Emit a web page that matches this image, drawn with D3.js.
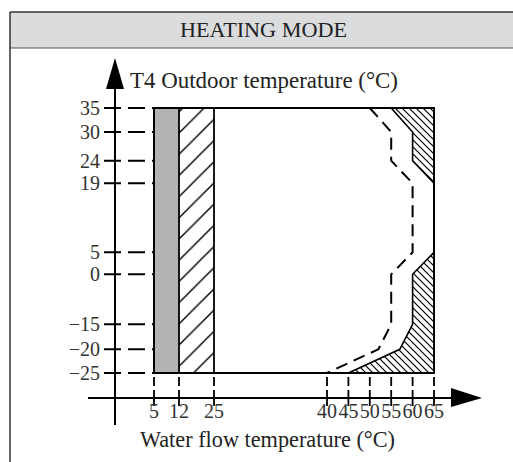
<!DOCTYPE html>
<html><head><meta charset="utf-8">
<script src="https://cdn.jsdelivr.net/npm/d3@7"></script>
<style>html,body{margin:0;padding:0;background:#fff;}svg{display:block;}</style>
</head><body>
<script>
// ---- data ----
const title = "HEATING MODE";
const yAxisTitle = "T4 Outdoor temperature (°C)";
const xAxisTitle = "Water flow temperature (°C)";
const xTickValues = [5, 12, 25, 40, 45, 50, 55, 60, 65];
const yTickValues = [35, 30, 24, 19, 5, 0, -15, -20, -25];
const grayBand = [5, 12];
const hatchBand = [12, 25];
const dashedBoundary = [[50,35],[55,30],[55,24],[60,19],[60,5],[55,0],[55,-15],[52,-20],[40,-25]];
const upperHatch = [[55,35],[65,35],[65,19],[60,24],[60,30]];
const lowerHatch = [[45,-25],[57,-20],[60,-15],[60,0],[65,5],[65,-25]];

// ---- scales (non-uniform, piecewise) ----
const x = d3.scaleLinear().domain([5,12,25,40,65]).range([154,179,214,327,434]);
const y = d3.scaleLinear().domain(yTickValues).range([108,132,160.7,183.3,252.3,274.3,324.3,349.3,373]);

const W = 513, H = 462;
const svg = d3.select("body").append("svg").attr("width", W).attr("height", H);
const font = "'Liberation Serif', 'DejaVu Serif', serif";

const defs = svg.append("defs");
const s1 = 21.2;
defs.append("pattern").attr("id","fwd").attr("patternUnits","userSpaceOnUse")
  .attr("width",s1).attr("height",s1).attr("x",15.3)
  .append("path").attr("d",`M0,${s1} L${s1},0 M-2,2 L2,-2 M${s1-2},${s1+2} L${s1+2},${s1-2}`)
  .attr("stroke","#000").attr("stroke-width",1.4);
const s2 = 7;
defs.append("pattern").attr("id","back").attr("patternUnits","userSpaceOnUse")
  .attr("width",s2).attr("height",s2)
  .append("path").attr("d",`M0,0 L${s2},${s2} M-2,${s2-2} L2,${s2+2} M${s2-2},-2 L${s2+2},2`)
  .attr("stroke","#000").attr("stroke-width",1.2);

// frame + header
svg.append("rect").attr("x",10).attr("y",12).attr("width",W-10).attr("height",36)
  .attr("fill","#dbdcdd");
svg.append("line").attr("x1",10).attr("x2",W).attr("y1",12).attr("y2",12).attr("stroke","#333").attr("stroke-width",1.5);
svg.append("line").attr("x1",10).attr("x2",W).attr("y1",48).attr("y2",48).attr("stroke","#555").attr("stroke-width",1.2);
svg.append("line").attr("x1",10).attr("x2",10).attr("y1",12).attr("y2",H).attr("stroke","#333").attr("stroke-width",1.5);
svg.append("text").attr("x",263.5).attr("y",37).attr("text-anchor","middle")
  .attr("font-family",font).attr("font-size",20).attr("fill","#222")
  .attr("textLength",167).attr("lengthAdjust","spacingAndGlyphs").text(title);

// regions
const yTop = y(35), yBot = y(-25);
svg.append("rect").attr("x",x(grayBand[0])).attr("y",yTop).attr("width",x(grayBand[1])-x(grayBand[0])).attr("height",yBot-yTop)
  .attr("fill","#b3b3b3");
svg.append("rect").attr("x",x(hatchBand[0])).attr("y",yTop).attr("width",x(hatchBand[1])-x(hatchBand[0])).attr("height",yBot-yTop)
  .attr("fill","url(#fwd)").attr("stroke","#000").attr("stroke-width",1.8);

const line = d3.line().x(d=>x(d[0])).y(d=>y(d[1]));
svg.append("path").attr("d",line(upperHatch)+"Z").attr("fill","url(#back)").attr("stroke","#000").attr("stroke-width",1.6);
svg.append("path").attr("d",line(lowerHatch)+"Z").attr("fill","url(#back)").attr("stroke","#000").attr("stroke-width",1.6);
svg.append("path").attr("d",line(dashedBoundary)).attr("fill","none").attr("stroke","#000")
  .attr("stroke-width",2).attr("stroke-dasharray","12,7");

// box
svg.append("rect").attr("x",x(5)).attr("y",yTop).attr("width",x(65)-x(5)).attr("height",yBot-yTop)
  .attr("fill","none").attr("stroke","#000").attr("stroke-width",2);

// axes
const axX = 115, axY = 398;
svg.append("line").attr("x1",axX).attr("x2",axX).attr("y1",86).attr("y2",425).attr("stroke","#000").attr("stroke-width",2);
svg.append("path").attr("d",`M${axX},58 L${axX-9},89 L${axX+9},89 Z`).attr("fill","#000");
svg.append("line").attr("x1",88).attr("x2",453).attr("y1",axY).attr("y2",axY).attr("stroke","#000").attr("stroke-width",2);
svg.append("path").attr("d",`M482,${axY} L451,${axY-10} L451,${axY+9} Z`).attr("fill","#000");

// y ticks
const yt = svg.append("g");
yTickValues.forEach(v=>{
  yt.append("line").attr("x1",104).attr("x2",x(5)).attr("y1",y(v)).attr("y2",y(v))
    .attr("stroke","#000").attr("stroke-width",2).attr("stroke-dasharray","17,7");
  yt.append("text").attr("x",100).attr("y",y(v)).attr("dy","0.34em").attr("text-anchor","end")
    .attr("font-family",font).attr("font-size",20).attr("fill","#333").text(v < 0 ? "\u2212"+Math.abs(v) : v);
});
// x ticks
const xt = svg.append("g");
xTickValues.forEach(v=>{
  xt.append("line").attr("x1",x(v)).attr("x2",x(v)).attr("y1",377).attr("y2",406)
    .attr("stroke","#000").attr("stroke-width",1.8).attr("stroke-dasharray","9,4,16");
  xt.append("text").attr("x",x(v)).attr("y",418).attr("text-anchor","middle")
    .attr("font-family",font).attr("font-size",20).attr("fill","#333").text(v);
});

// axis titles
svg.append("text").attr("x",130).attr("y",88).attr("font-family",font).attr("font-size",23)
  .attr("fill","#222").attr("textLength",268).attr("lengthAdjust","spacingAndGlyphs").text(yAxisTitle);
svg.append("text").attr("x",140).attr("y",447).attr("font-family",font).attr("font-size",23)
  .attr("fill","#222").attr("textLength",255).attr("lengthAdjust","spacingAndGlyphs").text(xAxisTitle);
</script>
</body></html>
